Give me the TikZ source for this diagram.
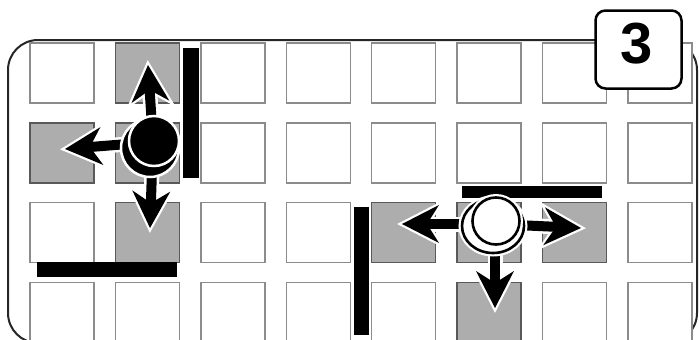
\documentclass[tikz,border=0pt]{standalone}
\usepackage{fontspec}
\setmainfont{Liberation Sans}
\usetikzlibrary{calc,shapes.geometric}
\newcommand{\mvarrow}[2]{%
  \coordinate (mvb) at ($(#2)!37pt!(#1)$);
  \coordinate (mvi) at ($(#2)!25pt!(#1)$);
  \coordinate (mvp) at ($(mvb)!19pt!90:(#2)$);
  \coordinate (mvq) at ($(mvb)!19pt!-90:(#2)$);
  \draw[white, line width=15pt] (#1) -- (mvi);
  \draw[white, line width=4.5pt, fill=white, line join=miter] (#2) -- (mvp) -- (mvi) -- (mvq) -- cycle;
  \draw[black, line width=10pt] (#1) -- (mvi);
  \fill[black] (#2) -- (mvp) -- (mvi) -- (mvq) -- cycle;
}
\begin{document}
\begin{tikzpicture}[x=1pt,y=-1pt,
  cell/.style={draw=black!45, line width=1.4pt, fill=white},
  shaded/.style={draw=black!65, line width=1.4pt, fill=black!32},
  wall/.style={fill=black},
  blackbot/.style={circle, inner sep=0pt, fill=black, draw=white, line width=2.5pt},
  whitebot/.style={circle, inner sep=0pt, fill=white, draw=black, line width=2.6pt,
    preaction={draw=white, line width=7pt}},
]
\useasboundingbox (0,0) rectangle (699,340);
% frame
\draw[line width=2pt, black!85, rounded corners=30pt] (8,40) rectangle (697,343);
% grid
\foreach \i in {0,...,7}{
  \foreach \j in {0,...,3}{
    \path[cell] (30+85.4*\i, 43+79.8*\j) rectangle ++(64,60);
  }
}
\foreach \i/\j in {1/0,0/1,1/1,1/2,4/2,5/2,6/2,5/3}{
  \path[shaded] (30+85.4*\i, 43+79.8*\j) rectangle ++(64,60);
}
% walls
\path[wall] (183,48) rectangle (199,178);
\path[wall] (37,262) rectangle (177,277);
\path[wall] (462,186) rectangle (602,198);
\path[wall] (354,207) rectangle (369,335);
% robot 1 (black)
\coordinate (r1c) at (153,142);
\coordinate (t1u) at (148,65);
\coordinate (t1l) at (65,149);
\coordinate (t1d) at (150,228);
\mvarrow{r1c}{t1u}
\mvarrow{r1c}{t1l}
\mvarrow{r1c}{t1d}
\node[blackbot, minimum size=58pt] (r1s) at (150,148) {};
\node[blackbot, minimum size=50pt] (r1) at (154,141) {};
% robot 2 (white)
\coordinate (r2c) at (495,224);
\coordinate (t2l) at (402,224);
\coordinate (t2r) at (581,228);
\coordinate (t2d) at (495,308);
\mvarrow{r2c}{t2l}
\mvarrow{r2c}{t2r}
\mvarrow{r2c}{t2d}
\node[whitebot, ellipse, minimum width=62pt, minimum height=54pt] (r2s) at (493,226) {};
\node[whitebot, minimum size=47pt] (r2) at (496,221) {};
% number box
\node[draw=black, line width=2.5pt, rounded corners=10pt, fill=white,
  minimum width=86pt, minimum height=78pt] (numbox) at (638.5,49.5) {};
\node (numtext) at (637,44) {\fontsize{58}{58}\selectfont\bfseries 3};
\end{tikzpicture}
\end{document}
